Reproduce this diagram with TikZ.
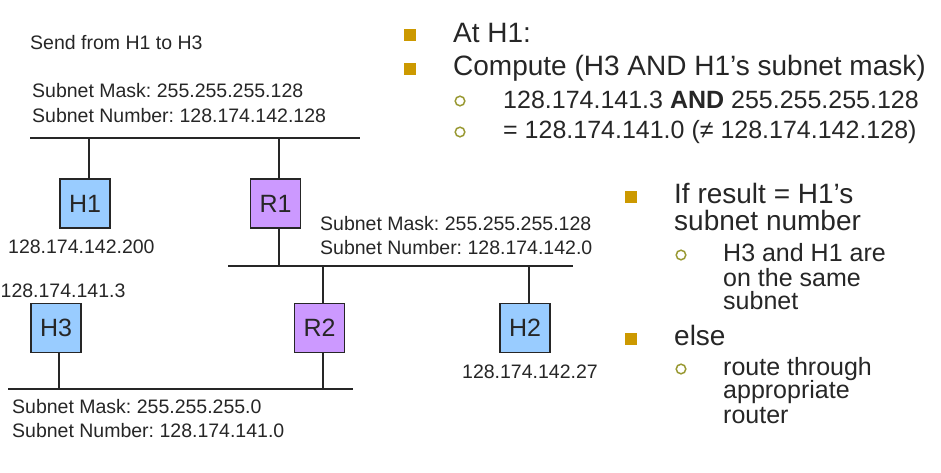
\documentclass[tikz,border=0pt]{standalone}
\usepackage{fontspec}
\setmainfont{Liberation Sans}
\frenchspacing
\definecolor{host}{HTML}{99CCFF}
\definecolor{router}{HTML}{CC99FF}
\definecolor{ink}{HTML}{262626}
\definecolor{bullet}{HTML}{CC9900}
\definecolor{subbullet}{HTML}{999933}

\begin{document}
\begin{tikzpicture}[x=1pt, y=-1pt,
	box/.style={draw=ink, line width=1.7pt, minimum width=50pt, minimum height=49pt, inner sep=0pt, text=ink, font=\fontsize{25}{30}\selectfont},
	hostbox/.style={box, fill=host},
	routerbox/.style={box, fill=router},
	bus/.style={draw=ink, line width=2pt},
	small/.style={anchor=base west, inner sep=0pt, text=ink, font=\fontsize{19.5}{24}\selectfont},
	mid/.style={anchor=base west, inner sep=0pt, text=ink, font=\fontsize{25}{30}\selectfont},
	big/.style={anchor=base west, inner sep=0pt, text=ink, font=\fontsize{28}{34}\selectfont}]

	\useasboundingbox (0,0) rectangle (941,472);

	%Rechner und Router
	\node [hostbox] (h1) at (85, 203.5) {H1};
	\node [routerbox] (r1) at (275.5, 203.5) {R1};
	\node [hostbox] (h3) at (56, 328) {H3};
	\node [routerbox] (r2) at (319.5, 328) {R2};
	\node [hostbox] (h2) at (525, 328) {H2};

	%Netze
	\coordinate (n1a) at (30, 138);
	\coordinate (n1b) at (360, 138);
	\coordinate (n2a) at (228, 266);
	\coordinate (n2b) at (573, 266);
	\coordinate (n3a) at (8, 389);
	\coordinate (n3b) at (353, 389);
	\draw [bus] (n1a) -- (n1b);
	\draw [bus] (n2a) -- (n2b);
	\draw [bus] (n3a) -- (n3b);

	%Anschluesse
	\coordinate (t1) at (89, 138);
	\coordinate (t2) at (279, 138);
	\coordinate (t3) at (279, 266);
	\coordinate (t4) at (323, 266);
	\coordinate (t5) at (529, 266);
	\coordinate (t6) at (59, 389);
	\coordinate (t7) at (323, 389);
	\draw [bus] (h1.north -| t1) -- (t1);
	\draw [bus] (r1.north -| t2) -- (t2);
	\draw [bus] (r1.south -| t3) -- (t3);
	\draw [bus] (r2.north -| t4) -- (t4);
	\draw [bus] (h2.north -| t5) -- (t5);
	\draw [bus] (h3.south -| t6) -- (t6);
	\draw [bus] (r2.south -| t7) -- (t7);

	%Beschriftung
	\node [small] (send) at (30, 49) {Send from H1 to H3};
	\node [small] (mask1) at (32, 97.5) {Subnet Mask: 255.255.255.128};
	\node [small] (num1) at (32, 122) {Subnet Number: 128.174.142.128};
	\node [small] (mask2) at (320, 230) {Subnet Mask: 255.255.255.128};
	\node [small] (num2) at (320, 254) {Subnet Number: 128.174.142.0};
	\node [small] (mask3) at (12, 413.5) {Subnet Mask: 255.255.255.0};
	\node [small] (num3) at (12, 437) {Subnet Number: 128.174.141.0};
	\node [small] (ip1) at (8, 253.5) {128.174.142.200};
	\node [small] (ip3) at (0.5, 297) {128.174.141.3};
	\node [small] (ip2) at (462, 378.5) {128.174.142.27};

	%Aufzaehlung
	\foreach \x/\y in {410/35, 410/69, 631/197, 631/338.5}
	{
		\fill [bullet] (\x-6, \y-6) rectangle (\x+6, \y+6);
	}
	\foreach \x/\y in {460/101, 460/132, 681/255, 681/369}
	{
		\draw [subbullet, line width=1.5pt] (\x, \y) circle (4.8);
	}
	\node [big] (at) at (453, 42.5) {At H1:};
	\node [big] (comp) at (453, 75) {Compute (H3 AND H1’s subnet mask)};
	\node [mid] (and) at (503, 108.5) {128.174.141.3 \textbf{AND} 255.255.255.128};
	\node [mid] (res) at (503, 138.5) {= 128.174.141.0 (≠ 128.174.142.128)};
	\node [big] (if1) at (674, 203.5) {If result = H1’s};
	\node [big] (if2) at (674, 230) {subnet number};
	\node [mid] (same1) at (723, 261.5) {H3 and H1 are};
	\node [mid] (same2) at (723, 286.5) {on the same};
	\node [mid] (same3) at (723, 309.5) {subnet};
	\node [big] (else) at (674, 345) {else};
	\node [mid] (route1) at (723, 375) {route through};
	\node [mid] (route2) at (723, 398.5) {appropriate};
	\node [mid] (route3) at (723, 423) {router};

\end{tikzpicture}
\end{document}
